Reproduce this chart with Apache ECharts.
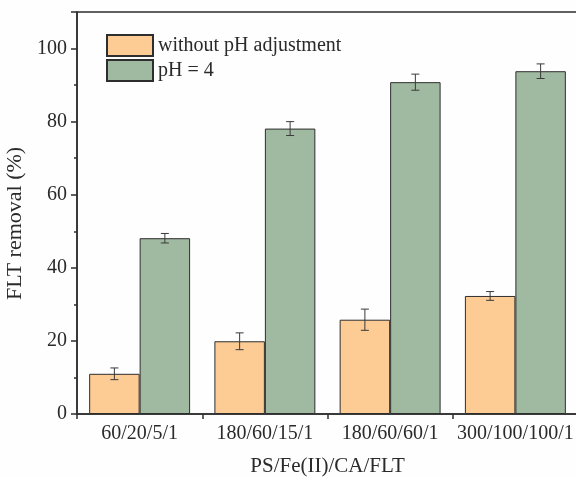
<!DOCTYPE html>
<html>
<head>
<meta charset="utf-8">
<script src="https://cdn.jsdelivr.net/npm/echarts@6/dist/echarts.min.js"></script>
<style>
  html, body { margin: 0; padding: 0; background: #fefefe; }
  #chart { width: 576px; height: 477px; }
</style>
</head>
<body>
<div id="chart"></div>
<script>
// Dosing ratios (PS/Fe(II)/CA/FLT)
const categories = ['60/20/5/1', '180/60/15/1', '180/60/60/1', '300/100/100/1'];
// FLT removal (%) and standard deviations
const noAdjust = [11.0, 19.9, 25.8, 32.3];
const noAdjustErr = [1.6, 2.3, 2.9, 1.2];
const ph4 = [48.1, 78.1, 90.8, 93.8];
const ph4Err = [1.3, 1.9, 2.2, 2.0];
const seriesNames = ['without pH adjustment', 'pH = 4'];

const FONT = 'Liberation Serif';
const TEXT = '#2a2a2a';
const AXIS = '#2e2e2e';
const GAP = 0.194; // share of a category left empty

const chart = echarts.init(document.getElementById('chart'));

function errorBars(values, errs, side) {
  return {
    type: 'custom',
    silent: true,
    z: 10,
    data: values.map((v, i) => [i, v, errs[i]]),
    renderItem: function (params, api) {
      const i = api.value(0), v = api.value(1), e = api.value(2);
      const catW = api.size([1, 0])[0];
      const barW = catW * (1 - GAP) / 2;
      const cx = api.coord([i, v])[0] + side * barW / 2;
      const yTop = api.coord([i, v + e])[1];
      const yBot = api.coord([i, v - e])[1];
      const cap = 4;
      const style = { stroke: '#3a3a3a', lineWidth: 1 };
      return {
        type: 'group',
        children: [
          { type: 'line', shape: { x1: cx, y1: yTop, x2: cx, y2: yBot }, style },
          { type: 'line', shape: { x1: cx - cap, y1: yTop, x2: cx + cap, y2: yTop }, style },
          { type: 'line', shape: { x1: cx - cap, y1: yBot, x2: cx + cap, y2: yBot }, style }
        ]
      };
    }
  };
}

chart.setOption({
  backgroundColor: '#fefefe',
  animation: false,
  grid: {
    left: 77, top: 12, width: 501, height: 402,
    outerBoundsMode: 'none', containLabel: false,
    show: true, borderColor: AXIS, borderWidth: 1.5, backgroundColor: 'transparent'
  },
  legend: {
    left: 106, top: 34, orient: 'vertical', padding: 0,
    itemWidth: 46, itemHeight: 21, itemGap: 2,
    textStyle: { fontFamily: FONT, fontSize: 20, color: TEXT },
    data: seriesNames.map(n => ({ name: n, icon: 'rect' }))
  },
  xAxis: {
    type: 'category',
    data: categories,
    name: 'PS/Fe(II)/CA/FLT',
    nameLocation: 'middle',
    nameGap: 42,
    nameTextStyle: { fontFamily: FONT, fontSize: 21, color: TEXT },
    axisLine: { lineStyle: { color: AXIS, width: 1.5 } },
    axisTick: { show: true, inside: false, length: 5, alignWithLabel: false, lineStyle: { color: AXIS, width: 1.5 } },
    axisLabel: { fontFamily: FONT, fontSize: 20, color: TEXT, margin: 10, interval: 0 }
  },
  yAxis: {
    type: 'value',
    min: 0, max: 110, interval: 20,
    axisLine: { show: true, lineStyle: { color: AXIS, width: 1.5 } },
    axisTick: { show: true, length: 6, lineStyle: { color: AXIS, width: 1.5 } },
    minorTick: { show: true, splitNumber: 2, length: 3, lineStyle: { color: AXIS, width: 1.5 } },
    splitLine: { show: false },
    axisLabel: {
      fontFamily: FONT, fontSize: 20, color: TEXT, margin: 10,
      formatter: v => (v % 20 === 0 && v <= 100 ? String(v) : '')
    }
  },
  graphic: [{
    type: 'text',
    x: 4, y: 300,
    rotation: Math.PI / 2,
    style: { text: 'FLT removal (%)', fontFamily: FONT, fontSize: 22, fill: TEXT, textVerticalAlign: 'top' }
  }],
  series: [
    {
      name: seriesNames[0], type: 'bar', data: noAdjust,
      barGap: '0%', barCategoryGap: (GAP * 100) + '%',
      itemStyle: { color: '#fdcb94', borderColor: '#2e2e2e', borderWidth: 1 }
    },
    {
      name: seriesNames[1], type: 'bar', data: ph4,
      barGap: '0%', barCategoryGap: (GAP * 100) + '%',
      itemStyle: { color: '#a0b9a1', borderColor: '#2e2e2e', borderWidth: 1 }
    },
    errorBars(noAdjust, noAdjustErr, -1),
    errorBars(ph4, ph4Err, 1)
  ]
});
</script>
</body>
</html>
